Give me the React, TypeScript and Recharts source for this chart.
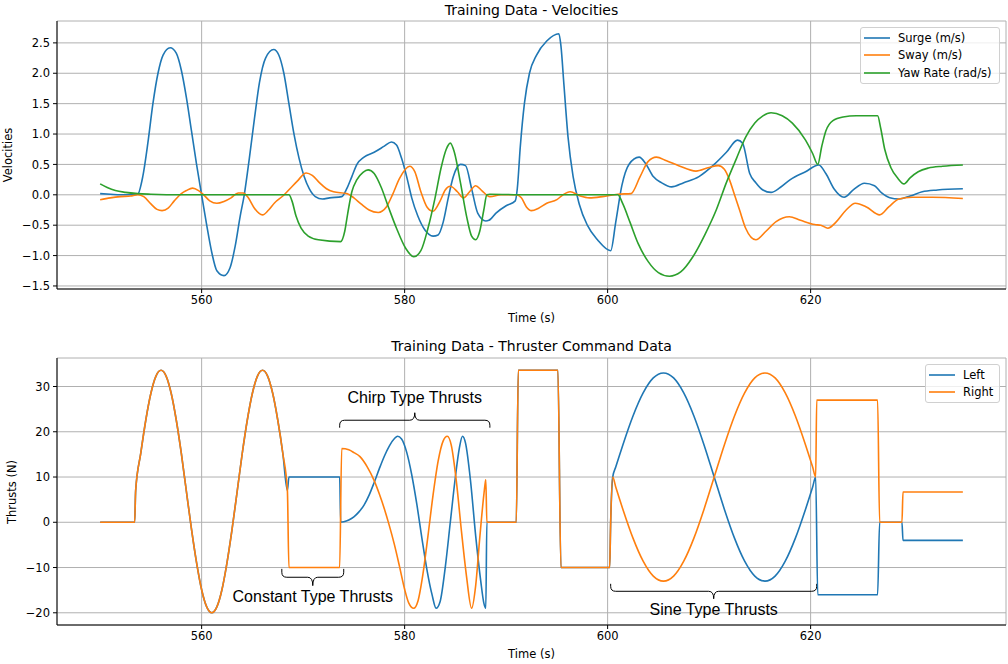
import React from "react";
import {
  CartesianGrid,
  Legend,
  Line,
  LineChart,
  ReferenceArea,
  XAxis,
  YAxis,
} from "recharts";

// time (s), value pairs
const surge: [number, number][] = [
  [550, 0.02], [551, 0.01], [552, 0.0], [553, 0.0], [553.7, 0.01], [554.2, 0.3],
  [554.7, 0.85], [555.2, 1.5], [555.7, 2.0], [556.2, 2.3], [556.9, 2.42], [557.5, 2.33],
  [558, 2.05], [558.5, 1.6], [559, 1.05], [559.5, 0.5], [560, 0.0], [560.5, -0.5],
  [561, -0.95], [561.5, -1.25], [562.2, -1.33], [562.8, -1.2], [563.3, -0.85], [563.8, -0.35],
  [564.2, 0.0], [564.7, 0.6], [565.2, 1.25], [565.7, 1.85], [566.3, 2.25], [567.1, 2.39],
  [567.6, 2.3], [568.1, 2.0], [568.6, 1.5], [569.1, 1.0], [569.6, 0.6], [570.1, 0.3],
  [570.6, 0.1], [571.2, -0.03], [571.9, -0.07], [572.6, -0.05], [573.8, -0.03], [574.3, 0.1],
  [574.8, 0.3], [575.3, 0.5], [576, 0.62], [577, 0.7], [578, 0.8], [578.7, 0.87],
  [579.2, 0.82], [579.7, 0.6], [580.2, 0.3], [580.7, -0.05], [581.3, -0.35], [582, -0.58],
  [582.8, -0.68], [583.3, -0.66], [583.8, -0.45], [584.3, -0.05], [584.8, 0.3], [585.5, 0.5],
  [586, 0.48], [586.6, 0.1], [587.2, -0.3], [588, -0.43], [588.3, -0.42], [589, -0.3],
  [590, -0.18], [590.9, -0.1], [591.1, 0.1], [591.4, 0.8], [591.8, 1.5], [592.3, 2.0],
  [593, 2.3], [594, 2.53], [595.2, 2.65], [595.4, 2.45], [595.7, 1.8], [596.1, 0.95],
  [596.6, 0.3], [597.2, -0.15], [598, -0.5], [599, -0.74], [600.3, -0.92], [600.8, -0.45],
  [601.4, 0.15], [602.1, 0.5], [603.1, 0.62], [603.8, 0.5], [604.5, 0.3], [605.3, 0.2],
  [606.3, 0.13], [607.5, 0.2], [609, 0.3], [610.5, 0.5], [611.7, 0.7], [612.8, 0.9],
  [613.3, 0.85], [614, 0.35], [614.6, 0.2], [615.3, 0.08], [616.1, 0.04], [617, 0.12],
  [618, 0.25], [619.5, 0.38], [620.8, 0.49], [621.5, 0.35], [622.3, 0.1], [623.3, -0.04],
  [624.2, 0.08], [625.3, 0.19], [626.3, 0.15], [627, 0.03], [627.8, -0.05], [628.7, -0.07],
  [629.8, -0.02], [631, 0.05], [632.5, 0.08], [635, 0.1],
];

const sway: [number, number][] = [
  [550, -0.08], [551, -0.05], [552, -0.03], [553, -0.02], [553.7, 0.0], [554.3, -0.03],
  [555, -0.15], [555.6, -0.24], [556.1, -0.26], [556.7, -0.22], [557.3, -0.1], [558, 0.02],
  [558.5, 0.07], [559.1, 0.11], [559.7, 0.07], [560.2, 0.0], [560.8, -0.1], [561.5, -0.14],
  [562.2, -0.11], [562.9, -0.05], [563.6, 0.03], [564.1, 0.03], [564.6, -0.05], [565.2, -0.22],
  [566, -0.33], [566.6, -0.25], [567.2, -0.13], [568, -0.02], [568.7, 0.1], [569.4, 0.22],
  [570.3, 0.36], [570.9, 0.32], [571.6, 0.2], [572.3, 0.1], [573, 0.05], [574.3, 0.02],
  [575, -0.05], [575.7, -0.15], [576.5, -0.25], [577.4, -0.29], [578.2, -0.2], [578.8, 0.0],
  [579.5, 0.27], [580.5, 0.47], [581, 0.38], [581.6, 0.05], [582.2, -0.2], [582.8, -0.27],
  [583.5, -0.1], [584, 0.08], [584.5, 0.14], [585.2, 0.05], [585.8, -0.05], [586.4, 0.05],
  [587, 0.15], [587.6, 0.07], [588.4, -0.03], [589.5, 0.0], [591, 0.0], [591.5, -0.05],
  [592, -0.2], [592.5, -0.26], [593.2, -0.22], [594, -0.14], [595, -0.08], [595.6, 0.0],
  [596.3, 0.05], [597.3, -0.02], [598.2, -0.05], [599.5, -0.03], [601, 0.01], [602.3, 0.02],
  [603.2, 0.3], [604, 0.55], [604.8, 0.62], [605.8, 0.56], [607, 0.48], [608.7, 0.39],
  [610, 0.45], [610.9, 0.48], [611.5, 0.42], [612, 0.25], [612.5, 0.0], [613, -0.25],
  [613.6, -0.55], [614.6, -0.74], [615.6, -0.6], [616.6, -0.44], [617.9, -0.36], [619, -0.42],
  [620.4, -0.49], [621, -0.5], [621.7, -0.55], [622.5, -0.45], [623.5, -0.25], [624.4, -0.14],
  [625.5, -0.2], [626.8, -0.33], [627.7, -0.2], [628.7, -0.07], [630, -0.04], [632, -0.04],
  [635, -0.06],
];

const yawRate: [number, number][] = [
  [550, 0.18], [550.7, 0.12], [551.5, 0.07], [552.5, 0.04], [553.7, 0.02], [555, 0.01],
  [558, 0.0], [568.6, 0.0], [568.9, -0.1], [569.3, -0.35], [569.8, -0.55], [570.5, -0.68],
  [571.5, -0.74], [573.7, -0.77], [574.1, -0.6], [574.4, -0.3], [574.8, 0.05], [575.3, 0.25],
  [575.9, 0.37], [576.4, 0.41], [577, 0.35], [577.7, 0.12], [578.4, -0.2], [579.2, -0.55],
  [580.1, -0.88], [580.9, -1.02], [581.6, -0.92], [582.3, -0.55], [583, -0.05], [583.6, 0.45],
  [584.1, 0.75], [584.5, 0.85], [584.9, 0.7], [585.5, 0.2], [586.1, -0.35], [586.6, -0.68],
  [587, -0.74], [587.4, -0.6], [587.8, -0.25], [588.1, 0.0], [588.4, 0.01], [592, 0.0],
  [601, 0.0], [601.5, -0.15], [602.2, -0.45], [603, -0.8], [604, -1.1], [605, -1.28],
  [606.1, -1.34], [607.2, -1.27], [608.4, -1.02], [609.6, -0.65], [610.7, -0.25], [611.7, 0.2],
  [612.7, 0.6], [613.6, 0.95], [614.5, 1.18], [615.3, 1.3], [616.1, 1.35], [617.2, 1.3],
  [618.2, 1.18], [619.5, 0.9], [620.2, 0.68], [620.7, 0.5], [621.1, 0.8], [621.5, 1.05],
  [622.2, 1.22], [623.2, 1.28], [624.5, 1.3], [626.6, 1.3], [626.9, 1.1], [627.3, 0.75],
  [627.9, 0.45], [628.6, 0.27], [629.2, 0.18], [629.8, 0.28], [630.6, 0.38], [631.6, 0.44],
  [633, 0.47], [635, 0.49],
];

// both thrusters follow the same command until ~568.5 s
const thrustCommon: [number, number][] = [
  [550, 0], [553.4, 0], [553.5, 7], [554, 15.2], [554.5, 22.6], [555, 28.5],
  [555.5, 32.3], [556, 33.6], [556.5, 32.3], [557, 28.5], [557.5, 22.6], [558, 15.2],
  [558.5, 6.8], [559, -1.5], [559.5, -8.9], [560, -14.9], [560.5, -18.7], [561, -20],
  [561.5, -18.7], [562, -14.9], [562.5, -8.9], [563, -1.5], [563.5, 6.8], [564, 15.2],
  [564.5, 22.6], [565, 28.5], [565.5, 32.3], [566, 33.6], [566.5, 32.3], [567, 28.5],
  [567.5, 22.6], [568, 15.2], [568.45, 7],
];

const thrustLeftRest: [number, number][] = [
  [568.6, 10], [573.6, 10], [573.7, 0], [574, 0.1], [574.5, 0.5], [575, 1.2],
  [575.5, 2.3], [576, 3.8], [576.5, 6.0], [577, 8.8], [577.5, 11.8], [578, 14.6],
  [578.5, 16.9], [579, 18.5], [579.3, 19], [579.7, 18.4], [580.2, 15.5], [580.7, 10.5],
  [581.2, 4], [581.7, -3.5], [582.2, -10.5], [582.7, -16], [583.1, -19], [583.5, -17.5],
  [584, -10], [584.5, 0], [585, 10], [585.4, 16.5], [585.7, 19], [586, 17.5],
  [586.5, 9], [587, -3], [587.5, -13], [587.8, -17.8], [588, -19], [588.1, 0],
  [591, 0], [591.2, 33.6], [595.1, 33.6], [595.4, -10], [600.2, -10], [600.3, 0],
  [600.5, 10], [600.8, 12.2], [601.5, 17.1], [602.5, 23.5], [603.5, 28.6], [604.5, 31.9],
  [605.5, 33], [606.5, 31.9], [607.5, 28.6], [608.5, 23.5], [609.5, 17.1], [610.5, 10],
  [611.5, 2.9], [612.5, -3.5], [613.5, -8.6], [614.5, -11.9], [615.5, -13], [616.5, -11.9],
  [617.5, -8.6], [618.5, -3.5], [619.5, 2.9], [620.2, 7.8], [620.5, 10], [620.7, -16],
  [626.6, -16], [626.8, 0], [629, 0], [629.1, -4], [635, -4],
];

const thrustRightRest: [number, number][] = [
  [568.6, -10], [573.6, -10], [573.8, 16.3], [574.5, 16], [575, 15.4], [575.6, 14.5],
  [576.3, 12.3], [577, 9.2], [577.5, 6.3], [578, 3.0], [578.5, -0.8], [579, -5],
  [579.5, -9.8], [580, -14.8], [580.4, -17.8], [580.9, -19], [581.3, -17.5], [581.8, -11.5],
  [582.3, -3], [582.8, 6], [583.3, 13.5], [583.8, 18], [584.2, 19], [584.6, 17],
  [585.1, 9], [585.6, -2], [586.1, -12], [586.6, -19], [587, -14], [587.4, -3.5],
  [587.8, 6], [587.95, 8.8], [588, 9.4], [588.1, 0], [591, 0], [591.2, 33.6],
  [595.1, 33.6], [595.4, -10], [600.2, -10], [600.3, 0], [600.5, 10], [600.8, 7.8],
  [601.5, 2.9], [602.5, -3.5], [603.5, -8.6], [604.5, -11.9], [605.5, -13], [606.5, -11.9],
  [607.5, -8.6], [608.5, -3.5], [609.5, 2.9], [610.5, 10], [611.5, 17.1], [612.5, 23.5],
  [613.5, 28.6], [614.5, 31.9], [615.5, 33], [616.5, 31.9], [617.5, 28.6], [618.5, 23.5],
  [619.5, 17.1], [620.2, 12.2], [620.5, 10], [620.6, 27], [626.6, 27], [626.8, 0],
  [629, 0], [629.1, 6.7], [635, 6.7],
];

const timeTicks = [560, 580, 600, 620];
const velTicks = [-1.5, -1, -0.5, 0, 0.5, 1, 1.5, 2, 2.5];
const thrustTicks = [-20, -10, 0, 10, 20, 30];

// braces under/over the thrust segments: [from, to, yTip, yCusp, label]
const braces: [number, number, number, number, string][] = [
  [567.9, 574.0, -10.3, -14.0, "Constant Type Thrusts"],
  [573.6, 588.4, 20.9, 24.2, "Chirp Type Thrusts"],
  [600.3, 620.6, -13.6, -16.9, "Sine Type Thrusts"],
];

const toRows = (pairs: [number, number][]) => pairs.map(([t, v]) => ({ t, v }));

const BLUE = "#1f77b4";
const ORANGE = "#ff7f0e";
const GREEN = "#2ca02c";
const FONT = "'DejaVu Sans', sans-serif";
const TDOMAIN: [number, number] = [545.75, 639.25];
const SMALL = 11.5;

const minus = (s: string) => s.replace("-", "\u2212");

const tickStyle = { fill: "#000", fontSize: SMALL, fontFamily: FONT };

function makeBrace(label: string, cuspUp: boolean) {
  return (props: any) => {
    const { x, y, width, height } = props;
    const x2 = x + width;
    const xm = x + width / 2;
    const h = height;
    const r = 5;
    const ym = y + h / 2;
    let d: string;
    let ty: number;
    if (!cuspUp) {
      d = `M${x},${y} L${x},${ym - r} Q${x},${ym} ${x + r},${ym} L${xm - r},${ym} Q${xm},${ym} ${xm},${y + h}` +
        ` Q${xm},${ym} ${xm + r},${ym} L${x2 - r},${ym} Q${x2},${ym} ${x2},${ym - r} L${x2},${y}`;
      ty = y + h + 11;
    } else {
      d = `M${x},${y + h} L${x},${ym + r} Q${x},${ym} ${x + r},${ym} L${xm - r},${ym} Q${xm},${ym} ${xm},${y}` +
        ` Q${xm},${ym} ${xm + r},${ym} L${x2 - r},${ym} Q${x2},${ym} ${x2},${ym + r} L${x2},${y + h}`;
      ty = y - 15;
    }
    return (
      <g>
        <path d={d} fill="none" stroke="#000" strokeWidth={1} />
        <text
          x={xm}
          y={ty}
          textAnchor="middle"
          dominantBaseline="central"
          fontSize={16}
          fontFamily="'Liberation Sans', Arial, sans-serif"
          fill="#000"
        >
          {label}
        </text>
      </g>
    );
  };
}

function LegendBox(props: any) {
  const { payload } = props;
  return (
    <div
      style={{
        border: "1px solid #d0d0d0",
        borderRadius: 3,
        background: "rgba(255,255,255,0.8)",
        padding: "1px 5px 1px 3px",
        fontFamily: FONT,
        fontSize: SMALL,
        color: "#000",
      }}
    >
      {(payload || []).map((p: any) => (
        <div key={p.value} style={{ display: "flex", alignItems: "center", height: 17.6 }}>
          <svg width={26} height={4} style={{ marginRight: 8, flex: "none" }}>
            <line x1={0} y1={2} x2={26} y2={2} stroke={p.color} strokeWidth={1.6} />
          </svg>
          <span style={{ whiteSpace: "nowrap" }}>{p.value}</span>
        </div>
      ))}
    </div>
  );
}

function Text({ x, y, size, rotate, children }: any) {
  return (
    <div
      style={{
        position: "absolute",
        left: x,
        top: y,
        transform: `translate(-50%, -50%)${rotate ? " rotate(-90deg)" : ""}`,
        fontFamily: FONT,
        fontSize: size,
        whiteSpace: "nowrap",
        color: "#000",
        lineHeight: 1,
      }}
    >
      {children}
    </div>
  );
}

export default function App() {
  return (
    <div style={{ position: "absolute", left: 0, top: 0, width: 1008, height: 664, background: "#fff" }}>
      <div style={{ position: "absolute", left: 0, top: 0 }}>
        <LineChart width={1008} height={332} margin={{ top: 21, right: 2, bottom: 13, left: 7 }}>
          <CartesianGrid stroke="#b0b0b0" strokeWidth={1} />
          <XAxis
            dataKey="t"
            type="number"
            domain={TDOMAIN}
            ticks={timeTicks}
            allowDataOverflow
            height={30}
            tick={tickStyle}
            tickSize={4}
            tickMargin={3}
            stroke="#000"
          />
          <XAxis xAxisId="top" orientation="top" type="number" domain={TDOMAIN} height={0} tick={false} tickLine={false} stroke="#000" />
          <YAxis
            type="number"
            domain={[-1.55, 2.86]}
            ticks={velTicks}
            allowDataOverflow
            width={50}
            tick={tickStyle}
            tickSize={4}
            tickMargin={3}
            stroke="#000"
            tickFormatter={(v: number) => minus(v.toFixed(1))}
          />
          <YAxis yAxisId="right" orientation="right" domain={[0, 1]} width={0} tick={false} tickLine={false} stroke="#000" />
          <Line data={toRows(surge)} dataKey="v" name="Surge (m/s)" type="monotone" stroke={BLUE} strokeWidth={1.6} dot={false} isAnimationActive={false} />
          <Line data={toRows(sway)} dataKey="v" name="Sway (m/s)" type="monotone" stroke={ORANGE} strokeWidth={1.6} dot={false} isAnimationActive={false} />
          <Line data={toRows(yawRate)} dataKey="v" name="Yaw Rate (rad/s)" type="monotone" stroke={GREEN} strokeWidth={1.6} dot={false} isAnimationActive={false} />
          <Legend
            layout="vertical"
            align="center"
            verticalAlign="middle"
            content={<LegendBox />}
            wrapperStyle={{ left: 860, top: 27, width: 140 }}
          />
        </LineChart>
      </div>
      <div style={{ position: "absolute", left: 0, top: 332 }}>
        <LineChart width={1008} height={332} margin={{ top: 26, right: 2, bottom: 9, left: 7 }}>
          <CartesianGrid stroke="#b0b0b0" strokeWidth={1} />
          <XAxis
            dataKey="t"
            type="number"
            domain={TDOMAIN}
            ticks={timeTicks}
            allowDataOverflow
            height={30}
            tick={tickStyle}
            tickSize={4}
            tickMargin={3}
            stroke="#000"
          />
          <XAxis xAxisId="top" orientation="top" type="number" domain={TDOMAIN} height={0} tick={false} tickLine={false} stroke="#000" />
          <YAxis
            type="number"
            domain={[-22.7, 36.3]}
            ticks={thrustTicks}
            allowDataOverflow
            width={50}
            tick={tickStyle}
            tickSize={4}
            tickMargin={3}
            stroke="#000"
            tickFormatter={(v: number) => minus(String(v))}
          />
          <YAxis yAxisId="right" orientation="right" domain={[0, 1]} width={0} tick={false} tickLine={false} stroke="#000" />
          <Line data={toRows([...thrustCommon, ...thrustLeftRest])} dataKey="v" name="Left" type="monotone" stroke={BLUE} strokeWidth={1.6} dot={false} isAnimationActive={false} />
          <Line data={toRows([...thrustCommon, ...thrustRightRest])} dataKey="v" name="Right" type="monotone" stroke={ORANGE} strokeWidth={1.6} dot={false} isAnimationActive={false} />
          {braces.map(([x1, x2, yTip, yCusp, label]) => (
            <ReferenceArea
              key={label}
              x1={x1}
              x2={x2}
              y1={yTip}
              y2={yCusp}
              ifOverflow="visible"
              shape={makeBrace(label, yCusp > yTip)}
            />
          ))}
          <Legend
            layout="vertical"
            align="center"
            verticalAlign="middle"
            content={<LegendBox />}
            wrapperStyle={{ left: 925, top: 32, width: 75 }}
          />
        </LineChart>
      </div>
      <Text x={531.5} y={9.5} size={14}>Training Data - Velocities</Text>
      <Text x={531.5} y={318.5} size={SMALL}>Time (s)</Text>
      <Text x={9} y={155} size={SMALL} rotate>Velocities</Text>
      <Text x={531.5} y={346} size={14}>Training Data - Thruster Command Data</Text>
      <Text x={531.5} y={654.5} size={SMALL}>Time (s)</Text>
      <Text x={12.5} y={492} size={SMALL} rotate>Thrusts (N)</Text>
    </div>
  );
}
